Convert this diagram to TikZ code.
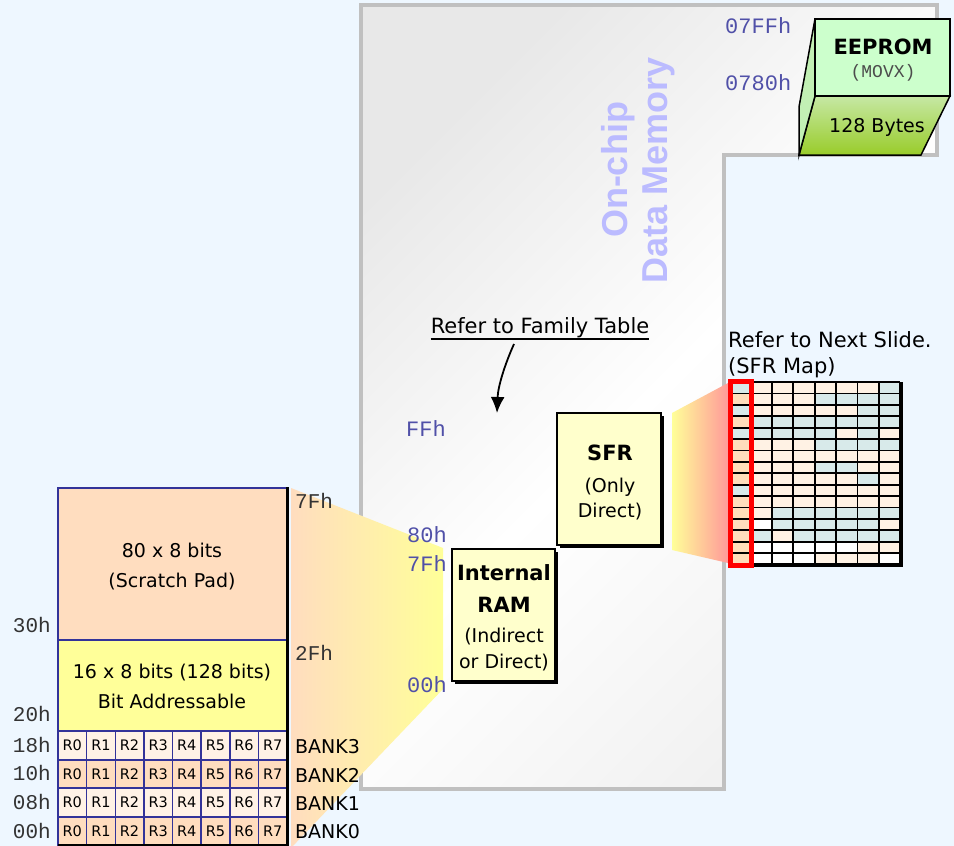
\documentclass[tikz,border=0pt]{standalone}
\usepackage{fontspec}
\setmainfont{DejaVu Sans}
\newfontfamily\monof{Liberation Mono}
\newfontfamily\titlef{Liberation Sans}
\usetikzlibrary{arrows.meta,calc}
\definecolor{bgblue}{HTML}{EEF7FF}
\definecolor{memgray}{HTML}{C0C0C0}
\definecolor{memshade}{HTML}{E8E8E8}
\definecolor{memshadeb}{HTML}{F0F0F0}
\definecolor{addrblue}{HTML}{5050A8}
\definecolor{peach}{HTML}{FFDDBF}
\definecolor{peachlight}{HTML}{FFF2E6}
\definecolor{yellowA}{HTML}{FFFF99}
\definecolor{boxyellow}{HTML}{FFFFCC}
\definecolor{navy}{HTML}{333399}
\definecolor{lav}{HTML}{BBBBFF}
\definecolor{eefront}{HTML}{CCFFCC}
\definecolor{eeside}{HTML}{C2F0B4}
\definecolor{eetop}{HTML}{C6E8A4}
\definecolor{eebot}{HTML}{99CC2A}
\definecolor{salmon}{HTML}{FF9999}
\definecolor{sfrB}{HTML}{D8EAEA}
\definecolor{sfrP}{HTML}{FFF2E4}
\definecolor{sfrQ}{HTML}{FFDDBB}
\definecolor{sfrW}{HTML}{FFFFFF}
\tikzset{
  addr/.style={font=\monof\fontsize{22}{22}\selectfont, text=addrblue, inner sep=0pt},
  addrk/.style={font=\monof\fontsize{21}{21}\selectfont, text=black!80, inner sep=0pt},
  lbl/.style={font=\fontsize{19}{22}\selectfont, inner sep=0pt},
  lblb/.style={font=\bfseries\fontsize{21}{24}\selectfont, inner sep=0pt},
  bank/.style={font=\fontsize{19}{22}\selectfont, inner sep=0pt, anchor=base west},
  reg/.style={font=\fontsize{14.5}{16}\selectfont, inner sep=0pt},
  boxfill/.style={fill=boxyellow, draw=black, line width=2.2pt},
  boxshadow/.style={fill=black},
}
\begin{document}
\begin{tikzpicture}[x=1pt,y=-1pt]
\useasboundingbox (0,0) rectangle (954,846);
\fill[bgblue] (0,0) rectangle (954,846);

% on-chip memory outline
\shadedraw[draw=memgray, line width=4pt, top color=memshade, bottom color=memshadeb, middle color=white, shading angle=45]
  (361,5) -- (937,5) -- (937,155) -- (724,155) -- (724,789) -- (361,789) -- cycle;

\node[rotate=90, font=\titlef\bfseries\fontsize{36}{40}\selectfont, text=lav, align=center, inner sep=0pt] (ocdm) at (638,170) {On-chip\\Data Memory};

% funnel from left block to internal RAM
\shade[left color=peach, right color=yellowA] (291,488) -- (443,548) -- (443,689) -- (291,848) -- cycle;

% left block
\fill[peach] (58,488) rectangle (287,640);
\fill[yellowA] (58,640) rectangle (287,731);
\fill[peachlight] (58,731) rectangle (287,760);
\fill[peach] (58,760) rectangle (287,788);
\fill[peachlight] (58,788) rectangle (287,817);
\fill[peach] (58,817) rectangle (287,846);
\draw[navy, line width=1.5pt] (58,846) -- (58,488) -- (287,488);
\foreach \yy in {640,731,760,788,817}{ \draw[navy, line width=1.5pt] (58,\yy) -- (287,\yy); }
\foreach \k in {1,...,7}{ \draw[navy, line width=1.5pt] ({58+28.625*\k},731) -- ({58+28.625*\k},846); }
\draw[black, line width=3pt] (287,487) -- (287,846);
\draw[black, line width=3pt] (58,845) -- (288,845);

\node[lbl, anchor=base] (sp1) at (172,557) {80 x 8 bits};
\node[lbl, anchor=base] (sp2) at (172,587) {(Scratch Pad)};
\node[lbl, anchor=base] (ba1) at (172,678) {16 x 8 bits (128 bits)};
\node[lbl, anchor=base] (ba2) at (172,708) {Bit Addressable};

\foreach \r/\yc in {0/745.5,1/774,2/802.5,3/831.5}{
  \foreach \k in {0,...,7}{
    \node[reg] (r\r\k) at ({58+28.625*(\k+0.5)},\yc) {R\k};
  }
}

\node[addrk, anchor=base east] (a30) at (51,632) {30h};
\node[addrk, anchor=base east] (a20) at (51,721) {20h};
\node[addrk, anchor=base east] (a18) at (51,752) {18h};
\node[addrk, anchor=base east] (a10) at (51,780) {10h};
\node[addrk, anchor=base east] (a08) at (51,809) {08h};
\node[addrk, anchor=base east] (a00) at (51,838) {00h};
\node[addrk, anchor=base west] (a7f) at (295,508) {7Fh};
\node[addrk, anchor=base west] (a2f) at (295,660) {2Fh};

\node[bank] (b3) at (295,753) {BANK3};
\node[bank] (b2) at (295,782) {BANK2};
\node[bank] (b1) at (295,810) {BANK1};
\node[bank] (b0) at (295,838) {BANK0};

% address labels in memory
\node[addr, anchor=base west] (ffh) at (406,436) {FFh};
\node[addr, anchor=base west] (h80) at (407,542) {80h};
\node[addr, anchor=base west] (h7f) at (407,571) {7Fh};
\node[addr, anchor=base west] (h00) at (407,692) {00h};
\node[addr, anchor=base west] (h7ff) at (725,33) {07FFh};
\node[addr, anchor=base west] (h780) at (725,90) {0780h};

% Refer to family table
\node[lbl, font=\fontsize{21}{24}\selectfont, anchor=base] (rft) at (540,333) {Refer to Family Table};
\draw[line width=1.5pt] ($(rft.base west)+(0,6)$) -- ($(rft.base east)+(0,6)$);
\coordinate (arrS) at (514,344);
\coordinate (arrE) at (497,413);
\draw[line width=1.8pt, -{Latex[length=16pt,width=14pt]}] (arrS) .. controls (505,364) and (498,386) .. (arrE);

% Internal RAM box
\fill[boxshadow] (455,552) rectangle (558,684);
\filldraw[boxfill] (452,549) rectangle (555,681);
\node[lblb, anchor=base] (ir1) at (504,580) {Internal};
\node[lblb, anchor=base] (ir2) at (504,612) {RAM};
\node[lbl, anchor=base] (ir3) at (504,642) {(Indirect};
\node[lbl, anchor=base] (ir4) at (504,668) {or Direct)};

% SFR box
\fill[boxshadow] (560,416) rectangle (664,548);
\filldraw[boxfill] (557,413) rectangle (661,545);
\node[lblb, anchor=base] (s1) at (610,460) {SFR};
\node[lbl, anchor=base] (s2) at (610,492) {(Only};
\node[lbl, anchor=base] (s3) at (610,517) {Direct)};

% SFR funnel
\shade[left color=yellowA, right color=salmon] (672,413) -- (728,383) -- (728,563) -- (672,550) -- cycle;

% SFR map
\node[lbl, font=\fontsize{21}{24}\selectfont, anchor=base west] (nxt1) at (728,347) {Refer to Next Slide.};
\node[lbl, font=\fontsize{21}{24}\selectfont, anchor=base west] (nxt2) at (728,373) {(SFR Map)};
\foreach \row [count=\r from 0] in {
  {B,P,P,P,P,P,P,B},{Q,P,P,P,B,B,B,B},{B,P,P,P,P,P,B,B},{Q,B,B,B,B,B,B,B},
  {B,B,B,B,B,P,B,P},{Q,P,P,P,B,B,B,B},{Q,P,P,P,P,P,P,P},{Q,P,P,P,B,B,P,P},
  {Q,P,P,P,P,P,B,P},{B,P,P,P,P,P,P,P},{Q,P,P,P,P,P,P,P},{Q,P,B,B,B,B,B,B},
  {Q,W,B,B,B,B,B,P},{Q,B,P,B,B,B,B,B},{Q,W,W,W,W,W,P,P},{Q,W,W,W,P,P,P,W}}{
  \foreach \c [count=\k from 0] in \row {
    \fill[fill=sfr\c] ({729+21.4*\k},{382+11.4*\r}) rectangle ({729+21.4*(\k+1)},{382+11.4*(\r+1)});
  }
}
\foreach \k in {0,...,8}{ \draw[black, line width=1.8pt] ({729+21.4*\k},382) -- ({729+21.4*\k},564.4); }
\foreach \r in {0,...,16}{ \draw[black, line width=1.8pt] (729,{382+11.4*\r}) -- (900.2,{382+11.4*\r}); }
\draw[black, line width=4pt] (901,382) -- (901,566);
\draw[black, line width=4pt] (729,565) -- (903,565);
\draw[red, line width=5pt] (730,381) rectangle (751.5,565);

% EEPROM box
\shadedraw[draw=black, line width=1.5pt, top color=eetop, bottom color=eebot] (815,96) -- (950,96) -- (921,155) -- (799,155) -- cycle;
\filldraw[fill=eeside, draw=black, line width=1.5pt] (815,19) -- (799,107) -- (799,155) -- (815,96) -- cycle;
\filldraw[fill=eefront, draw=black, line width=1.5pt] (815,19) rectangle (950,96);
\node[lblb, anchor=base] (ee1) at (883,54) {EEPROM};
\node[font=\monof\fontsize{18}{18}\selectfont, text=black!70, anchor=base, inner sep=0pt] (ee2) at (883,77) {(MOVX)};
\node[lbl, anchor=base] (ee3) at (877,132) {128 Bytes};
\end{tikzpicture}
\end{document}
